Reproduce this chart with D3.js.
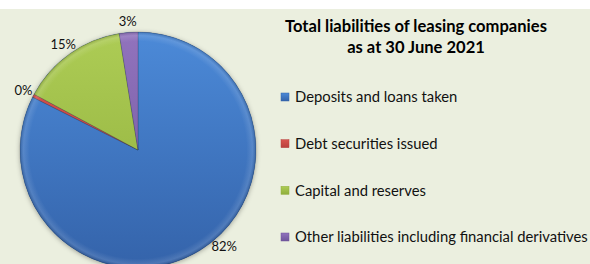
<!DOCTYPE html>
<html>
<head>
<meta charset="utf-8">
<script src="https://cdn.jsdelivr.net/npm/d3@7"></script>
<style>
  body { margin: 0; background: #fff; }
  svg { display: block; font-family: Lato, "Open Sans", sans-serif; }
</style>
</head>
<body>
<svg id="chart" width="590" height="264"></svg>
<script>
// data
const categories = ["Deposits and loans taken", "Debt securities issued", "Capital and reserves", "Other liabilities including financial derivatives"];
const shares = [82.4, 0.45, 14.6, 2.55];
const labels = ["82%", "0%", "15%", "3%"];
const colorsLight = ["#4c8ad8", "#d9534e", "#adcc55", "#9173bd"];
const colorsDark = ["#3463aa", "#b8403c", "#8fae3b", "#6f559b"];
const titleLines = ["Total liabilities of leasing companies", "as at 30 June 2021"];

const W = 590, H = 264;
const svg = d3.select("#chart");
const defs = svg.append("defs");

// background panel
svg.append("rect").attr("x", 0).attr("y", 9).attr("width", W).attr("height", H - 9).attr("fill", "#ebefdf");

const cx = 138, cy = 150, r = 118;

// slice gradients, in the pie group's coords
colorsLight.forEach((c, i) => {
  const g = defs.append("linearGradient").attr("id", "g" + i)
    .attr("gradientUnits", "userSpaceOnUse")
    .attr("x1", 0).attr("y1", -r).attr("x2", 0).attr("y2", r);
  g.append("stop").attr("offset", "0%").attr("stop-color", c);
  g.append("stop").attr("offset", "100%").attr("stop-color", colorsDark[i]);

  const lgr = defs.append("linearGradient").attr("id", "lg" + i)
    .attr("x1", 0).attr("y1", 0).attr("x2", 0).attr("y2", 1);
  lgr.append("stop").attr("offset", "0%").attr("stop-color", c);
  lgr.append("stop").attr("offset", "100%").attr("stop-color", colorsDark[i]);
});
const sh = defs.append("filter").attr("id", "shadow")
  .attr("x", "-20%").attr("y", "-20%").attr("width", "140%").attr("height", "140%");
sh.append("feDropShadow").attr("dx", 0).attr("dy", 1).attr("stdDeviation", 2.5)
  .attr("flood-color", "#000").attr("flood-opacity", 0.35);

const bevel = defs.append("radialGradient").attr("id", "bevel")
  .attr("gradientUnits", "userSpaceOnUse").attr("cx", 0).attr("cy", 0).attr("r", r);
bevel.append("stop").attr("offset", "92%").attr("stop-color", "#fff").attr("stop-opacity", 0);
bevel.append("stop").attr("offset", "97%").attr("stop-color", "#fff").attr("stop-opacity", 0.12);
bevel.append("stop").attr("offset", "100%").attr("stop-color", "#000").attr("stop-opacity", 0.15);

const pie = d3.pie().sort(null).value(d => d)(shares);
const arc = d3.arc().innerRadius(0).outerRadius(r);

const gPie = svg.append("g").attr("transform", `translate(${cx},${cy})`);
gPie.append("circle").attr("r", r).attr("fill", colorsDark[0]).attr("filter", "url(#shadow)");
gPie.selectAll("path.slice").data(pie).enter().append("path")
  .attr("class", "slice")
  .attr("d", arc)
  .attr("fill", (d, i) => `url(#g${i})`)
  .attr("stroke", "rgba(0,0,0,0.25)").attr("stroke-width", 0.6);
gPie.append("circle").attr("r", r).attr("fill", "url(#bevel)");

// percent labels outside the slices, kept inside the panel
const labelR = 129, maxY = 246;
gPie.selectAll("text.pct").data(pie).enter().append("text")
  .attr("class", "pct")
  .each(function (d, i) {
    const a = (d.startAngle + d.endAngle) / 2;
    let x = Math.sin(a) * labelR, y = -Math.cos(a) * labelR;
    if (cy + y > maxY) {
      y = maxY - cy;
      x = Math.sign(x) * Math.sqrt(labelR * labelR - y * y);
    }
    d3.select(this).attr("x", x).attr("y", y).attr("dy", "0.35em")
      .attr("text-anchor", "middle").attr("font-size", 13).attr("fill", "#111")
      .text(labels[i]);
  });

// title
const title = svg.append("text").attr("text-anchor", "middle").attr("font-weight", "bold")
  .attr("font-size", 14).attr("fill", "#000");
titleLines.forEach((t, i) => {
  title.append("tspan").attr("x", 416).attr("y", 32 + i * 21).text(t);
});
const tw = title.select("tspan").node().getComputedTextLength();
title.attr("font-size", 14 * 262 / tw);

// legend
const legendY = d3.scalePoint().domain(categories).range([97, 237]);
const lg = svg.append("g").selectAll("g").data(categories).enter().append("g")
  .attr("transform", d => `translate(281,${legendY(d)})`);
lg.append("rect").attr("x", 0).attr("y", -4).attr("width", 8).attr("height", 8)
  .attr("fill", (d, i) => `url(#lg${i})`).attr("stroke", (d, i) => colorsDark[i]).attr("stroke-width", 0.5);
const lt = lg.append("text").attr("x", 14).attr("dy", "0.35em").attr("font-size", 13)
  .attr("fill", "#111").text(d => d);
const lw = lt.nodes()[3].getComputedTextLength();
lt.attr("font-size", 13 * 293 / lw);
</script>
</body>
</html>
